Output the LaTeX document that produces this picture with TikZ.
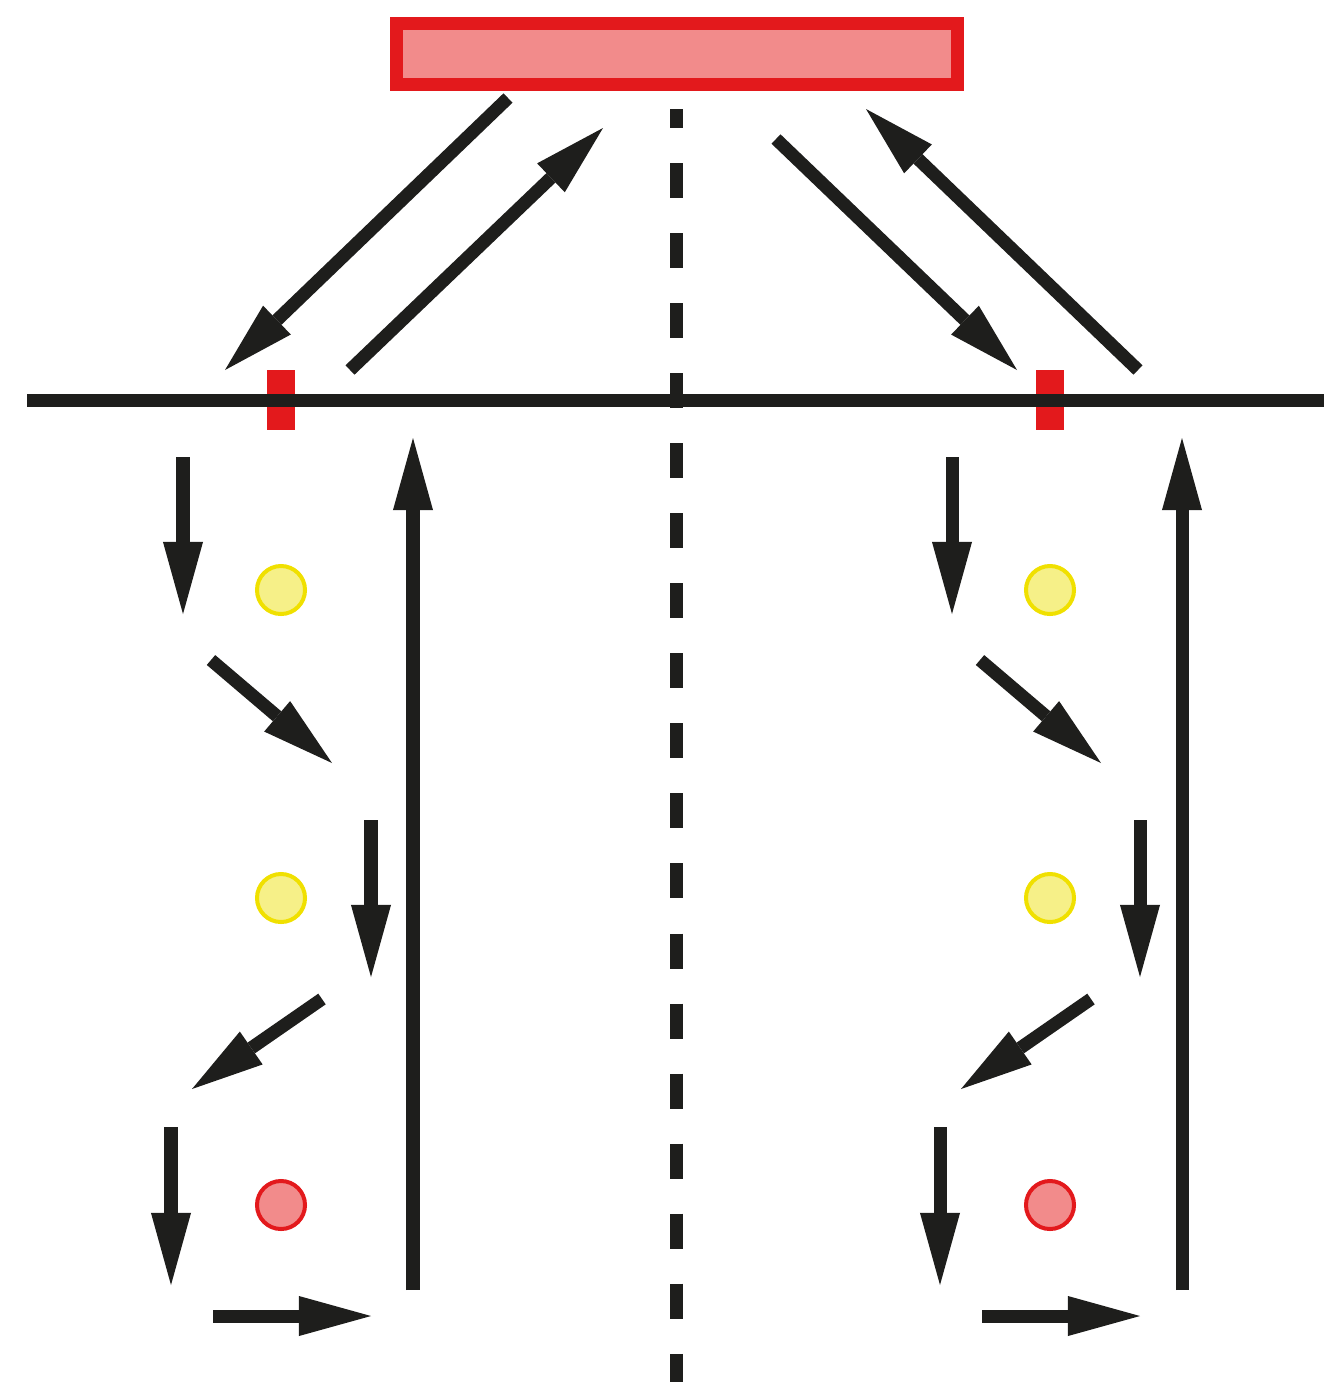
\documentclass[tikz,border=0pt]{standalone}
\usepackage{tikz}
\usetikzlibrary{arrows.meta}

\definecolor{ink}{HTML}{1E1E1C}
\definecolor{lampred}{HTML}{E3191C}
\definecolor{lamppink}{HTML}{F28B8B}
\definecolor{dotyellow}{HTML}{F6F088}
\definecolor{rimyellow}{HTML}{F0E000}

\begin{document}
\begin{tikzpicture}[x=0.01cm, y=-0.01cm,
						flow/.style={-{Triangle[length=0.72cm, width=0.4cm, line width=0pt]}, draw=ink, line width=0.13cm},
						tickbox/.style={rectangle, fill=lampred, inner sep=0pt, minimum width=0.27cm, minimum height=0.6cm},
						dot/.style={circle, draw=rimyellow, fill=dotyellow, line width=0.04cm, inner sep=0pt, minimum size=0.48cm},
						hotdot/.style={dot, draw=lampred, fill=lamppink}]
					\useasboundingbox (0,0) rectangle (1324,1393);

					\node (lamp) [rectangle, draw=lampred, fill=lamppink, line width=0.13cm, minimum width=5.6cm, minimum height=0.6cm] at (677,54) {};

					\coordinate (axistop) at (676,109);
					\coordinate (axisbot) at (676,1382);
					\draw [ink, line width=0.13cm, dash pattern=on 0.35cm off 0.35cm, dash phase=0.16cm] (axistop) -- (axisbot);

					\node (tickL) [tickbox] at (281,400) {};
					\node (tickR) [tickbox] at (1050,400) {};

					\coordinate (surfL) at (27,400);
					\coordinate (surfR) at (1324,400);
					\draw [ink, line width=0.13cm] (surfL) -- (surfR);

					\node (dotL1) [dot] at (281,590) {};
					\node (dotL2) [dot] at (281,898) {};
					\node (dotL3) [hotdot] at (281,1205) {};
					\node (dotR1) [dot] at (1050,590) {};
					\node (dotR2) [dot] at (1050,898) {};
					\node (dotR3) [hotdot] at (1050,1205) {};

					% beams
					\draw [flow] (508,98) -- (225,370);
					\draw [flow] (350,370) -- (603,128);
					\draw [flow] (776,139) -- (1017,370);
					\draw [flow] (1138,370) -- (866,109);

					% left column
					\draw [flow] (183,457) -- (183,614);
					\draw [flow] (211,660) -- (332,763);
					\draw [flow] (371,820) -- (371,977);
					\draw [flow] (322,999) -- (192,1089);
					\draw [flow] (171,1127) -- (171,1285);
					\draw [flow] (213,1316) -- (371,1316);
					\draw [flow] (413,1290) -- (413,438);

					% right column
					\draw [flow] (952,457) -- (952,614);
					\draw [flow] (980,660) -- (1101,763);
					\draw [flow] (1140,820) -- (1140,977);
					\draw [flow] (1091,999) -- (961,1089);
					\draw [flow] (940,1127) -- (940,1285);
					\draw [flow] (982,1316) -- (1140,1316);
					\draw [flow] (1182,1290) -- (1182,438);
				\end{tikzpicture}
\end{document}
